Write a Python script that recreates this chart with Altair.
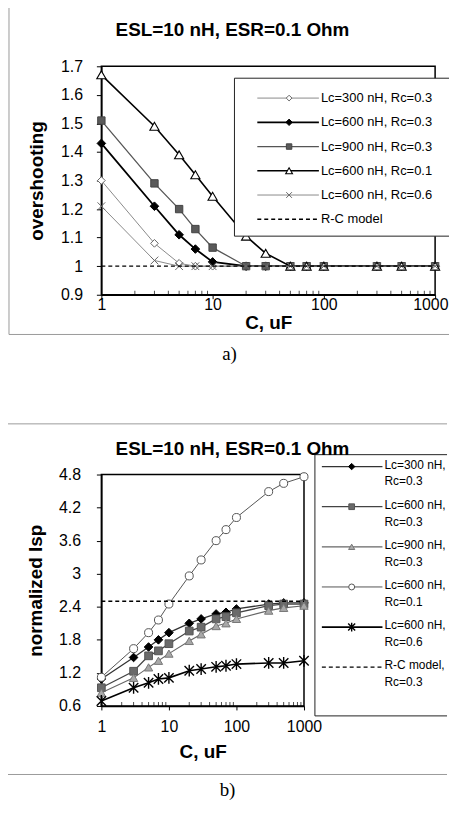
import altair as alt
import pandas as pd

# ---------------- data ----------------
C = [1, 3, 5, 7, 10, 20, 30, 50, 70, 100, 300, 500, 1000]
MAJOR_C = [1, 10, 100, 1000]
MINOR_C = [2, 3, 4, 5, 6, 7, 8, 9, 20, 30, 40, 50, 60, 70, 80, 90,
           200, 300, 400, 500, 600, 700, 800, 900]
RC_C = [1, 1000]

TITLE = "ESL=10 nH, ESR=0.1 Ohm"
XTITLE = "C, uF"

# panel a
A_YTITLE = "overshooting"
A_YTICKS = [0.9, 1.0, 1.1, 1.2, 1.3, 1.4, 1.5, 1.6, 1.7]
A_LABELS = ["Lc=300 nH, Rc=0.3", "Lc=600 nH, Rc=0.3", "Lc=900 nH, Rc=0.3",
            "Lc=600 nH, Rc=0.1", "Lc=600 nH, Rc=0.6", "R-C model"]
A_L300_R03 = [1.30, 1.08, 1.01, 1.0, 1.0, 1.0, 1.0, 1.0, 1.0, 1.0, 1.0, 1.0, 1.0]
A_L600_R03 = [1.43, 1.21, 1.11, 1.06, 1.015, 1.0, 1.0, 1.0, 1.0, 1.0, 1.0, 1.0, 1.0]
A_L900_R03 = [1.51, 1.29, 1.20, 1.13, 1.065, 1.0, 1.0, 1.0, 1.0, 1.0, 1.0, 1.0, 1.0]
A_L600_R01 = [1.67, 1.49, 1.39, 1.32, 1.245, 1.105, 1.045, 1.0, 1.0, 1.0, 1.0, 1.0, 1.0]
A_L600_R06 = [1.21, 1.02, 1.0, 1.0, 1.0, 1.0, 1.0, 1.0, 1.0, 1.0, 1.0, 1.0, 1.0]
A_RC = [1.0, 1.0]
A_CAPTION = "a)"

# panel b
B_YTITLE = "normalized Isp"
B_YTICKS = [0.6, 1.2, 1.8, 2.4, 3.0, 3.6, 4.2, 4.8]
B_LABELS = ["Lc=300 nH,|Rc=0.3", "Lc=600 nH,|Rc=0.3", "Lc=900 nH,|Rc=0.3",
            "Lc=600 nH,|Rc=0.1", "Lc=600 nH,|Rc=0.6", "R-C model,|Rc=0.3"]
B_L300_R03 = [1.09, 1.48, 1.67, 1.80, 1.93, 2.10, 2.18, 2.27, 2.30, 2.36, 2.45, 2.47, 2.47]
B_L600_R03 = [0.93, 1.23, 1.51, 1.60, 1.73, 1.96, 2.03, 2.18, 2.22, 2.29, 2.42, 2.45, 2.45]
B_L900_R03 = [0.84, 1.11, 1.30, 1.42, 1.55, 1.78, 1.90, 2.05, 2.10, 2.18, 2.33, 2.38, 2.42]
B_L600_R01 = [1.12, 1.64, 1.93, 2.16, 2.45, 2.96, 3.25, 3.60, 3.80, 4.02, 4.49, 4.64, 4.76]
B_L600_R06 = [0.69, 0.93, 1.02, 1.09, 1.11, 1.24, 1.27, 1.31, 1.33, 1.36, 1.38, 1.38, 1.42]
B_RC = [2.5, 2.5]
B_CAPTION = "b)"

# ---------------- styles ----------------
XMARK = "M-1,-1L1,1M-1,1L1,-1"
ASTER = "M-1,-1L1,1M-1,1L1,-1M0,-1.25L0,1.25"
FONT = "Liberation Sans"

A_STYLES = [
    dict(lc="#8a8a8a", lw=1.0, shape="diamond", fill="white", stroke="#666666", size=60, sw=1.0),
    dict(lc="#000000", lw=1.8, shape="diamond", fill="#000000", stroke="#000000", size=75, sw=1.0),
    dict(lc="#555555", lw=1.3, shape="square", fill="#5a5a5a", stroke="#444444", size=55, sw=1.0),
    dict(lc="#000000", lw=1.6, shape="triangle-up", fill="white", stroke="#000000", size=85, sw=1.1),
    dict(lc="#8a8a8a", lw=1.0, shape=XMARK, fill=None, stroke="#666666", size=60, sw=1.0),
]
B_STYLES = [
    dict(lc="#333333", lw=1.3, shape="diamond", fill="#000000", stroke="#000000", size=75, sw=1.0),
    dict(lc="#444444", lw=1.3, shape="square", fill="#6a6a6a", stroke="#555555", size=60, sw=1.0),
    dict(lc="#666666", lw=1.1, shape="triangle-up", fill="#a8a8a8", stroke="#777777", size=70, sw=1.0),
    dict(lc="#555555", lw=1.0, shape="circle", fill="white", stroke="#555555", size=65, sw=1.0),
    dict(lc="#000000", lw=1.6, shape=ASTER, fill=None, stroke="#000000", size=90, sw=1.4),
]

ONE = pd.DataFrame({"k": [0]})


def point_props(st, size):
    if st["fill"] is None:
        return dict(shape=st["shape"], filled=False, stroke=st["stroke"],
                    strokeWidth=st["sw"], size=size, opacity=1)
    return dict(shape=st["shape"], filled=True, fill=st["fill"], stroke=st["stroke"],
                strokeWidth=st["sw"], size=size, opacity=1)


def hrule(x1, x2, y, color, width=1.0):
    return alt.Chart(ONE).mark_rule(color=color, strokeWidth=width).encode(
        x=alt.value(x1), x2=alt.value(x2), y=alt.value(y))


def vrule(x, y1, y2, color, width=1.0):
    return alt.Chart(ONE).mark_rule(color=color, strokeWidth=width).encode(
        x=alt.value(x), y=alt.value(y1), y2=alt.value(y2))


def build_panel(series, styles, labels, rc, yticks, ydom, ytitle, caption, g):
    xs = alt.Scale(type="log", domain=[1, 1000], nice=False)
    ys = alt.Scale(domain=ydom, nice=False, zero=False)
    xkw = {}
    if g["lastflush"]:
        xkw = dict(labelAlign=alt.ExprRef(expr="datum.value >= 1000 ? 'right' : 'center'"),
                   labelOffset=alt.ExprRef(expr="datum.value >= 1000 ? 13 : 0"))
    xax = alt.Axis(values=MAJOR_C, format="d", title=XTITLE, tickSize=4, labelFlush=False,
                   labelBaseline="middle", labelPadding=g["xlp"],
                   titleY=g["xty"], titleBaseline="middle", grid=False, **xkw)
    yax = alt.Axis(values=yticks, format=g["yfmt"], title=ytitle, tickSize=5,
                   labelPadding=g["ylp"], titleX=g["ytx"], titleY=g["h"] / 2,
                   titleAngle=-90, titleBaseline="middle", titleAlign="center", grid=False)

    def enc(ch):
        return ch.encode(x=alt.X("C:Q", scale=xs, axis=xax), y=alt.Y("v:Q", scale=ys, axis=yax))

    data_layers = []
    for vals, st in zip(series, styles):
        df = pd.DataFrame({"C": C, "v": vals})
        data_layers.append(enc(alt.Chart(df).mark_line(color=st["lc"], strokeWidth=st["lw"])))
        data_layers.append(enc(alt.Chart(df).mark_point(**point_props(st, st["size"]))))
    rcdf = pd.DataFrame({"C": RC_C, "v": rc})
    data_layers.append(enc(alt.Chart(rcdf).mark_line(color="black", strokeWidth=1.3, strokeDash=[4, 3])))
    mdf = pd.DataFrame({"C": MINOR_C})
    data_layers.append(alt.Chart(mdf).mark_tick(orient="vertical", size=4, thickness=1, color="black",
                                                yOffset=-2).encode(
        x=alt.X("C:Q", scale=xs, axis=xax), y=alt.datum(ydom[0], scale=ys, axis=yax)))
    plot_group = alt.layer(*data_layers)

    # legend
    ls = alt.Scale(domain=[0, 5], range=g["lrows"])
    lb = g["lbox"]
    leg = [
        alt.Chart(ONE).mark_rect(fill="white").encode(
            x=alt.value(lb[0]), x2=alt.value(lb[1]), y=alt.value(lb[2]), y2=alt.value(lb[3])),
    ]
    all_styles = styles + [None]
    for i, (lab, st) in enumerate(zip(labels, all_styles)):
        ldf = pd.DataFrame({"li": [i], "label": [lab]})
        yenc = alt.Y("li:Q", scale=ls, axis=None)
        if st is None:
            leg.append(alt.Chart(ldf).mark_rule(color="black", strokeWidth=1.3, strokeDash=[4, 3]).encode(
                x=alt.value(g["lx"][0]), x2=alt.value(g["lx"][1]), y=yenc))
        else:
            leg.append(alt.Chart(ldf).mark_rule(color=st["lc"], strokeWidth=st["lw"]).encode(
                x=alt.value(g["lx"][0]), x2=alt.value(g["lx"][1]), y=yenc))
            leg.append(alt.Chart(ldf).mark_point(**point_props(st, st["size"] * 0.55)).encode(
                x=alt.value(g["lx"][2]), y=yenc))
        leg.append(alt.Chart(ldf).mark_text(**g["ltext"]).encode(
            x=alt.value(g["lx"][3]), y=yenc, text="label:N"))
    legend_group = alt.layer(*leg)

    fr = g["frame"]
    decor = [
        hrule(lb[0], lb[1], lb[2], "#222222"),
        hrule(lb[0], lb[1], lb[3], "#222222"),
        vrule(lb[0], lb[2], lb[3], "#222222"),
        hrule(fr[0], fr[1], fr[2], "#9a9a9a"),
        hrule(fr[0], fr[1], fr[3], "#9a9a9a"),
        vrule(fr[0], fr[2], fr[3], "#9a9a9a"),
        alt.Chart(ONE).mark_text(text=TITLE, font=FONT, fontSize=19, fontWeight="bold",
                                 align="center", baseline="middle", color="black").encode(
            x=alt.value(g["title"][0]), y=alt.value(g["title"][1])),
        alt.Chart(ONE).mark_text(text=caption, font="Liberation Serif", fontSize=19,
                                 align="center", baseline="middle", color="black").encode(
            x=alt.value(g["cap"][0]), y=alt.value(g["cap"][1])),
    ]
    return alt.layer(plot_group, legend_group, *decor).resolve_scale(y="independent").properties(
        width=g["w"], height=g["h"])


GA = dict(w=336, h=230, xlp=6, xty=28, yfmt=".2~f", ylp=14, ytx=-65, lastflush=True,
          lrows=[32, 154], lbox=[134, 350, 12, 171], lx=[157, 219, 189, 221],
          ltext=dict(align="left", baseline="middle", font=FONT, fontSize=13, color="black"),
          frame=[-93, 350, -61, 270], title=[132, -37], cap=[129, 290])
GB = dict(w=204, h=233, xlp=17, xty=46, yfmt=".1~f", ylp=16, ytx=-66, lastflush=False,
          lrows=[-8, 194], lbox=[215, 348, -20, 243], lx=[222, 283, 252, 285],
          ltext=dict(align="left", baseline="top", dy=-7, lineBreak="|", lineHeight=17,
                     font=FONT, fontSize=12, color="black"),
          frame=[-95, 348, -51, 302], title=[132, -26], cap=[127, 318])

pa = build_panel([A_L300_R03, A_L600_R03, A_L900_R03, A_L600_R01, A_L600_R06], A_STYLES,
                 A_LABELS, A_RC, A_YTICKS, [0.9, 1.7], A_YTITLE, A_CAPTION, GA)
pb = build_panel([B_L300_R03, B_L600_R03, B_L900_R03, B_L600_R01, B_L600_R06], B_STYLES,
                 B_LABELS, B_RC, B_YTICKS, [0.6, 4.8], B_YTITLE, B_CAPTION, GB)

chart = alt.vconcat(pa, pb, spacing=57).properties(
    padding={"top": -7, "left": -3, "right": 0, "bottom": -2}, background="white").configure_view(
    stroke="black", strokeWidth=1.5).configure_axis(
    labelFont=FONT, labelFontSize=16, labelColor="black", titleFont=FONT, titleFontSize=19,
    titleFontWeight="bold", titleColor="black", domainColor="black", domainWidth=1.5,
    tickColor="black")

chart.save("out.html", embed_options={"renderer": "svg", "actions": False})
